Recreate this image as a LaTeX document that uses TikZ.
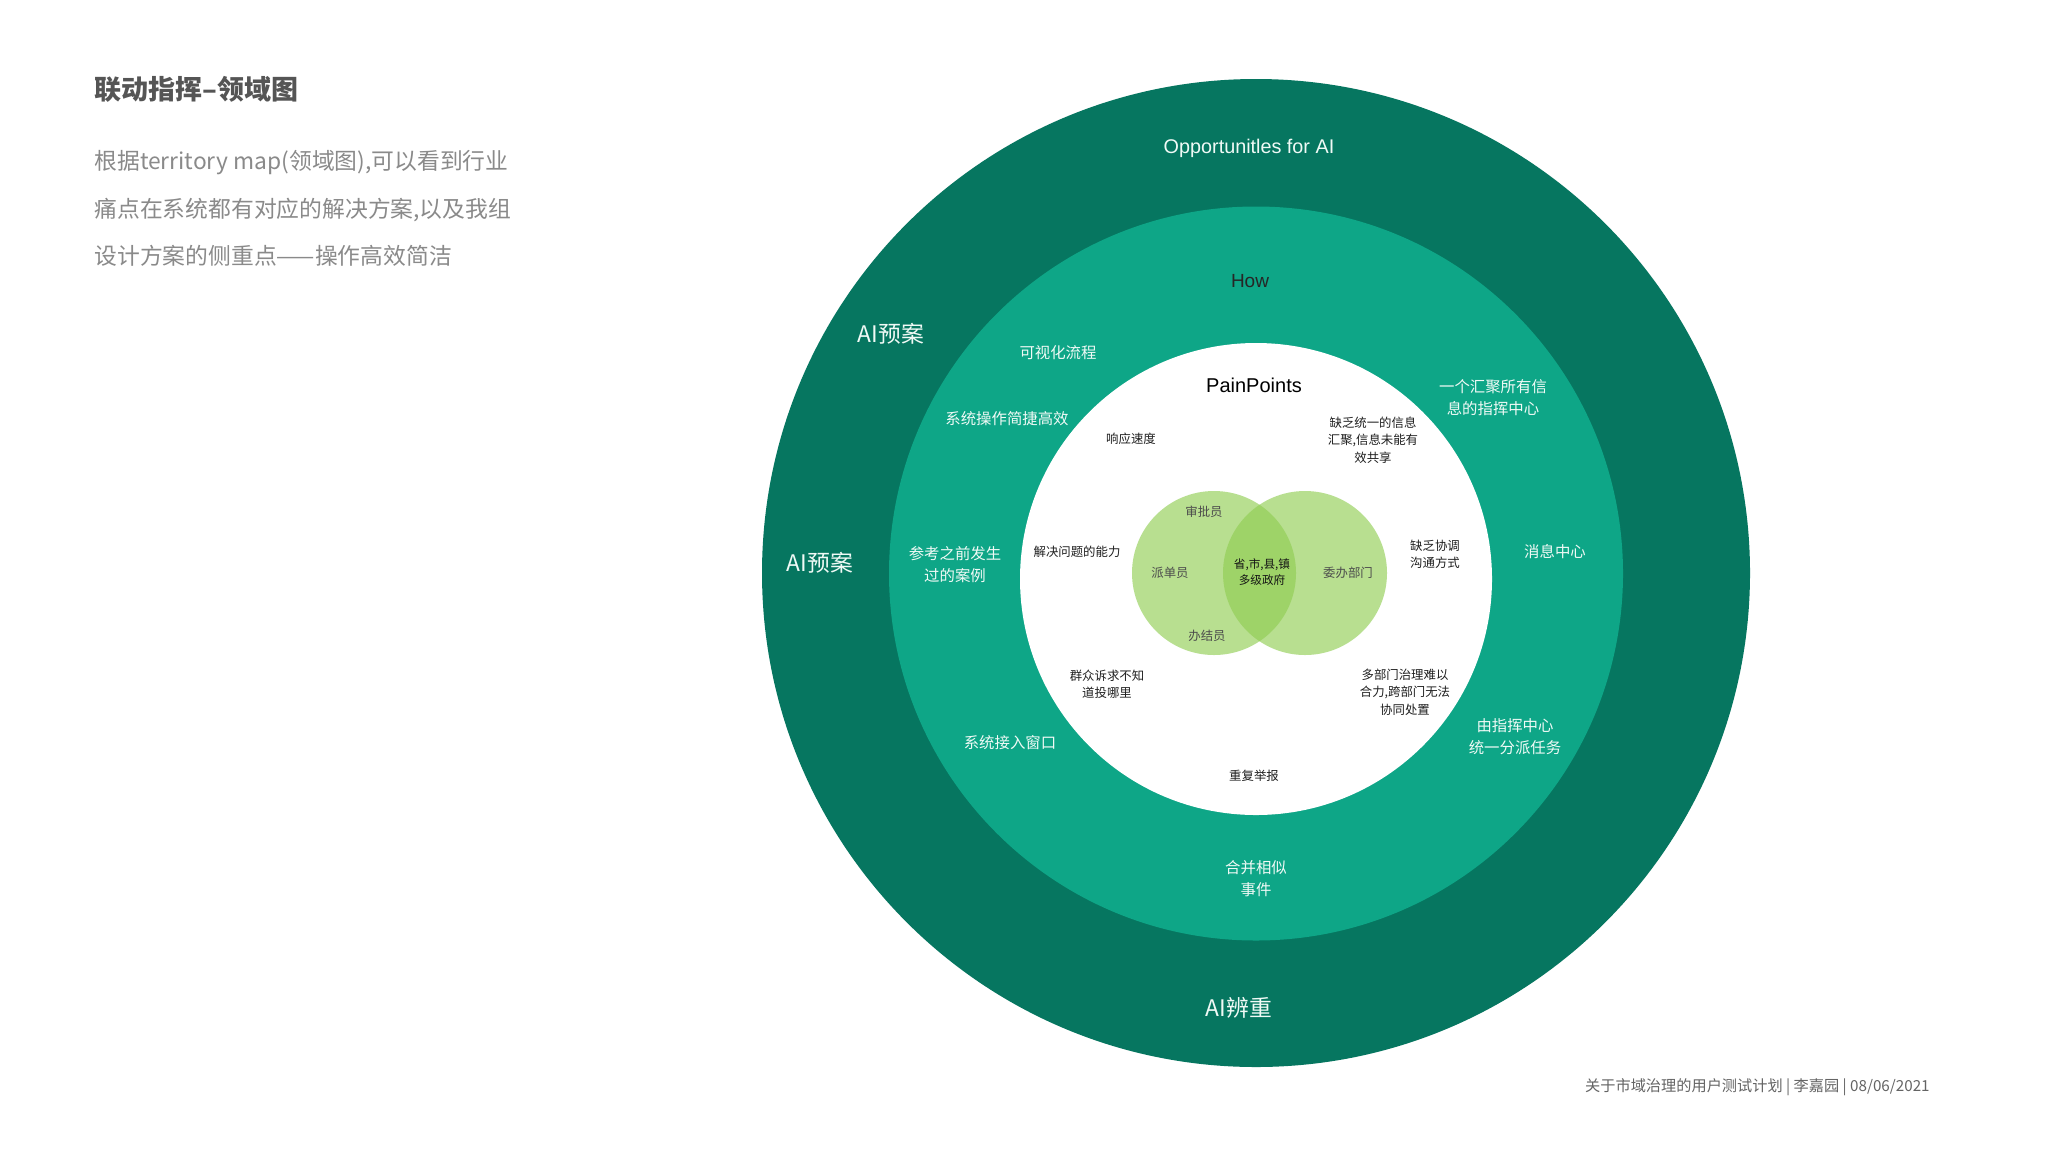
\documentclass[tikz,border=0pt]{standalone}
\usepackage{fontspec}
\setmainfont{Liberation Sans}
\newfontfamily\cjk{Noto Sans CJK SC}
\definecolor{outerG}{RGB}{6,118,96}
\definecolor{midG}{RGB}{14,166,135}
\definecolor{vennG}{RGB}{184,223,144}
\definecolor{vennO}{RGB}{158,211,104}
\definecolor{ringtxt}{RGB}{240,250,246}
\definecolor{titletxt}{RGB}{85,85,85}
\definecolor{bodytxt}{RGB}{138,138,138}
\definecolor{foottxt}{RGB}{100,100,100}
\tikzset{
  titlestyle/.style={anchor=west, text=titletxt, font=\cjk\bfseries\fontsize{13.5pt}{16pt}\selectfont, inner sep=0pt},
  bodystyle/.style={anchor=west, text=bodytxt, font=\cjk\fontsize{11.4pt}{14pt}\selectfont, inner sep=0pt},
  footstyle/.style={anchor=east, text=foottxt, font=\cjk\fontsize{7.6pt}{9pt}\selectfont, inner sep=0pt},
  bigring/.style={text=ringtxt, font=\cjk\fontsize{11.4pt}{14pt}\selectfont, inner sep=0pt},
  latinring/.style={text=ringtxt, font=\fontsize{9.9pt}{12pt}\selectfont, inner sep=0pt},
  midring/.style={text=ringtxt, font=\cjk\fontsize{7.7pt}{11pt}\selectfont, align=center, inner sep=0pt},
  pain/.style={text=black!88, font=\cjk\fontsize{6.2pt}{8.7pt}\selectfont, align=center, inner sep=0pt},
  vennlbl/.style={text=black!70, font=\cjk\fontsize{6.2pt}{8pt}\selectfont, align=center, inner sep=0pt},
  venncore/.style={text=black!92, font=\cjk\fontsize{5.8pt}{8pt}\selectfont, align=center, inner sep=0pt},
}
\begin{document}
\begin{tikzpicture}[x=0.5pt,y=-0.5pt]
\useasboundingbox[fill=white] (0,0) rectangle (2048,1152);

% rings
\coordinate (C) at (1256,573);
\coordinate (Ci) at (1256,579);
\fill[outerG] (C) circle[radius=247pt];
\fill[midG] (1256,573.5) circle[radius=183.5pt];
\fill[white] (Ci) circle[radius=118pt];

% venn
\coordinate (VL) at (1214,573);
\coordinate (VR) at (1305,573);
\fill[vennG] (VL) circle[radius=41pt];
\fill[vennG] (VR) circle[radius=41pt];
\begin{scope}
  \clip (VL) circle[radius=41pt];
  \fill[vennO] (VR) circle[radius=41pt];
\end{scope}

% left texts
\node[titlestyle] (title) at (94,89) {联动指挥–领域图};
\node[bodystyle] (body1) at (94,163) {根据territory map(领域图),可以看到行业};
\node[bodystyle] (body2) at (94,210) {痛点在系统都有对应的解决方案,以及我组};
\node[bodystyle] (body3) at (94,256) {设计方案的侧重点——操作高效简洁};
\node[footstyle] (foot) at (1930,1087) {关于市域治理的用户测试计划 | 李嘉园 | 08/06/2021};

% outer ring
\node[latinring] (opp) at (1249,148) {Opportunitles for AI};
\node[bigring] (ai1) at (891,334) {AI预案};
\node[bigring] (ai2) at (820,563) {AI预案};
\node[bigring] (ai3) at (1239,1008) {AI辨重};

% middle ring
\node[text=black!85, font=\fontsize{9.5pt}{12pt}\selectfont, inner sep=0pt] (how) at (1250,281) {How};
\node[midring] (m1) at (1058,353) {可视化流程};
\node[midring] (m2) at (1007,419) {系统操作简捷高效};
\node[midring] (m3) at (955,565) {参考之前发生\\过的案例};
\node[midring] (m4) at (1010,743) {系统接入窗口};
\node[midring] (m5) at (1256,879) {合并相似\\事件};
\node[midring] (m6) at (1515,737) {由指挥中心\\统一分派任务};
\node[midring] (m7) at (1555,552) {消息中心};
\node[midring] (m8) at (1493,398) {一个汇聚所有信\\息的指挥中心};

% inner circle
\node[text=black, font=\fontsize{10pt}{12pt}\selectfont, inner sep=0pt] (pp) at (1254,385) {PainPoints};
\node[pain] (p1) at (1131,439) {响应速度};
\node[pain] (p2) at (1077,552) {解决问题的能力};
\node[pain] (p3) at (1107,684) {群众诉求不知\\道投哪里};
\node[pain] (p4) at (1254,776) {重复举报};
\node[pain] (p5) at (1405,692) {多部门治理难以\\合力,跨部门无法\\协同处置};
\node[pain] (p6) at (1435,554) {缺乏协调\\沟通方式};
\node[pain] (p7) at (1373,440) {缺乏统一的信息\\汇聚,信息未能有\\效共享};

% venn labels
\node[vennlbl] (v1) at (1204,512) {审批员};
\node[vennlbl] (v2) at (1170,573) {派单员};
\node[vennlbl] (v3) at (1207,636) {办结员};
\node[venncore] (v4) at (1262,572) {省,市,县,镇\\多级政府};
\node[vennlbl] (v5) at (1348,573) {委办部门};
\end{tikzpicture}
\end{document}
